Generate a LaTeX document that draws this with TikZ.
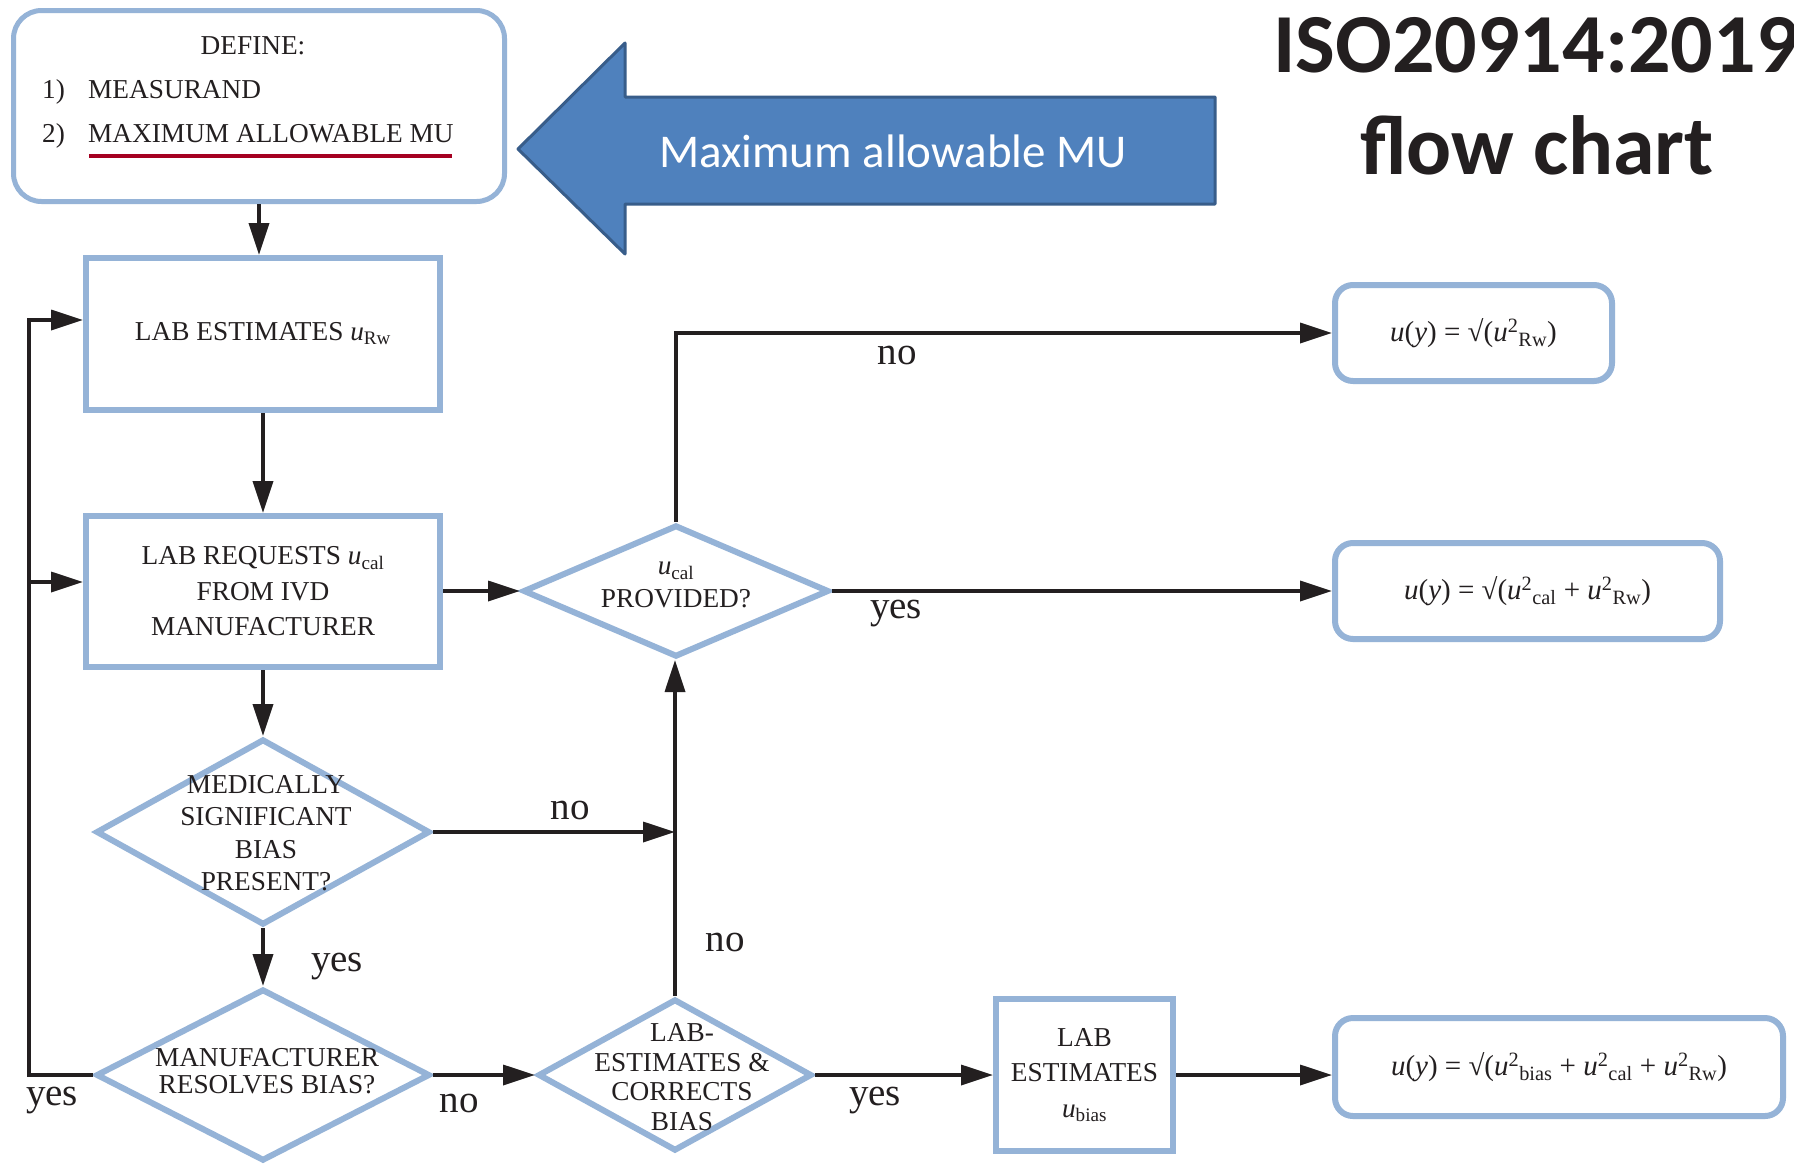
\documentclass[tikz,border=0pt]{standalone}
\usepackage{fontspec}
\setmainfont{Liberation Serif}
\newfontfamily\calibri{Carlito}
\usetikzlibrary{shapes.geometric,arrows.meta}
\definecolor{boxblue}{HTML}{95B3D7}
\definecolor{arrowfill}{HTML}{4F81BD}
\definecolor{arrowedge}{HTML}{385D8A}
\definecolor{ulred}{HTML}{A50021}
\definecolor{ink}{HTML}{231F20}
\newcommand\vu{\textit{u}}
\begin{document}
\begin{tikzpicture}[x=1pt,y=-1pt,
  every node/.style={text=ink},
  boxtxt/.style={font=\fontsize{27.3}{35.5}\selectfont, align=center},
  plain/.style={font=\fontsize{27.3}{32}\selectfont, inner sep=0pt},
  procbox/.style={draw=boxblue, line width=6pt, rectangle, inner sep=0pt, boxtxt},
  resultbox/.style={draw=boxblue, line width=6pt, rectangle, rounded corners=18pt,
    inner sep=0pt, font=\fontsize{29}{32}\selectfont},
  decision/.style={draw=boxblue, line width=6pt, diamond, inner sep=0pt},
  flow/.style={draw=ink, line width=3.5pt, -{Triangle[length=32pt,width=20pt]}},
  link/.style={draw=ink, line width=3.5pt},
  answer/.style={font=\fontsize{39}{40}\selectfont, anchor=base, inner sep=0pt},
]
\useasboundingbox (0,0) rectangle (1794,1163);
\fill[white] (0,0) rectangle (1794,1163);

% title
\node[font=\calibri\bfseries\fontsize{84}{90}\selectfont, anchor=base west, inner sep=0pt]
  (title1) at (1273,72) {ISO20914:2019};
\node[font=\calibri\bfseries\fontsize{84}{90}\selectfont, anchor=base, inner sep=0pt]
  (title2) at (1537,174) {flow chart};

% definition box
\node[draw=boxblue, line width=5pt, rounded corners=28pt, minimum width=491pt,
  minimum height=191pt, inner sep=0pt] (define) at (259,106) {};
\node[plain, anchor=base] (deftitle) at (253,54) {DEFINE:};
\node[plain, anchor=base west] (num1) at (42,98) {1)};
\node[plain, anchor=base west] (item1) at (88,98) {MEASURAND};
\node[plain, anchor=base west] (num2) at (42,142) {2)};
\node[plain, anchor=base west] (item2) at (88,142) {MAXIMUM ALLOWABLE MU};
\draw[ulred, line width=4pt] (89,156) -- (452,156);

% block arrow pointing at the definition box
\draw[fill=arrowfill, draw=arrowedge, line width=3pt, line join=round]
  (518,149) -- (625,43) -- (625,97) -- (1215,97) -- (1215,204)
  -- (625,204) -- (625,254) -- cycle;
\node[font=\calibri\fontsize{47}{50}\selectfont, text=white] (mu) at (893,151)
  {Maximum allowable MU};

% process boxes
\node[procbox, minimum width=354pt, minimum height=152pt] (est) at (263,334)
  {LAB ESTIMATES \vu\textsubscript{Rw}};
\node[procbox, minimum width=354pt, minimum height=151pt] (req) at (263,591.5)
  {LAB REQUESTS \vu\textsubscript{cal}\\FROM IVD\\MANUFACTURER};
\node[procbox, minimum width=177pt, minimum height=152pt] (ub) at (1084.5,1075)
  {LAB\\ESTIMATES\\\vu\textsubscript{bias}};

% decisions
\node[decision, minimum width=306pt, minimum height=132pt] (prov) at (676,591) {};
\node[boxtxt, font=\fontsize{27.3}{33}\selectfont] (provtxt) at (676,585)
  {\vu\textsubscript{cal}\\PROVIDED?};
\node[decision, minimum width=334pt, minimum height=186pt] (med) at (263,832) {};
\node[boxtxt, font=\fontsize{27.3}{32.3}\selectfont] (medtxt) at (266,833)
  {MEDICALLY\\SIGNIFICANT\\BIAS\\PRESENT?};
\node[decision, minimum width=334pt, minimum height=172pt] (man) at (263,1075) {};
\node[boxtxt, font=\fontsize{27.3}{27}\selectfont] (mantxt) at (267,1071)
  {MANUFACTURER\\RESOLVES BIAS?};
\node[decision, minimum width=274pt, minimum height=152pt] (lec) at (675,1075) {};
\node[boxtxt, font=\fontsize{27.3}{29.5}\selectfont] (lectxt) at (682,1077)
  {LAB-\\ESTIMATES \&\\CORRECTS\\BIAS};

% results
\node[resultbox, minimum width=277pt, minimum height=96pt] (f1) at (1473.5,333)
  {\vu(\textit{y}) = √(\vu\textsuperscript{2}\textsubscript{Rw})};
\node[resultbox, minimum width=385pt, minimum height=96pt] (f2) at (1527.5,591)
  {\vu(\textit{y}) = √(\vu\textsuperscript{2}\textsubscript{cal} + \vu\textsuperscript{2}\textsubscript{Rw})};
\node[resultbox, minimum width=448pt, minimum height=98pt] (f3) at (1559,1067)
  {\vu(\textit{y}) = √(\vu\textsuperscript{2}\textsubscript{bias} + \vu\textsuperscript{2}\textsubscript{cal} + \vu\textsuperscript{2}\textsubscript{Rw})};

% connectors
\draw[flow] (define.south) -- (define.south |- est.north);
\draw[flow] (est.south) -- (req.north);
\draw[flow] (req.east |- prov.west) -- (prov.west);
\draw[flow] (prov.north) |- (f1.west);
\draw[flow] (prov.east) -- (f2.west);
\draw[flow] (req.south) -- (med.north);
\draw[flow] (med.east) -- (med.east -| lec.north);
\draw[flow] (med.south) -- (man.north);
\draw[flow] (man.east) -- (lec.west);
\draw[flow] (lec.north) -- (lec.north |- prov.south);
\draw[flow] (lec.east) -- (ub.west);
\draw[flow] (ub.east) -- (ub.east -| f3.west);

% feedback line on the left
\coordinate (loopbot) at (29,1075);
\coordinate (looptop) at (29,320);
\coordinate (loopmid) at (29,582);
\draw[flow] (man.west) -- (loopbot) -- (looptop) -- (looptop -| est.west);
\draw[flow] (loopmid) -- (loopmid -| req.west);

% branch labels
\node[answer] (l1) at (897,364) {no};
\node[answer] (l2) at (896,618) {yes};
\node[answer] (l3) at (570,819) {no};
\node[answer] (l4) at (337,971) {yes};
\node[answer] (l5) at (725,951) {no};
\node[answer] (l6) at (52,1105) {yes};
\node[answer] (l7) at (459,1112) {no};
\node[answer] (l8) at (875,1105) {yes};
\end{tikzpicture}
\end{document}
